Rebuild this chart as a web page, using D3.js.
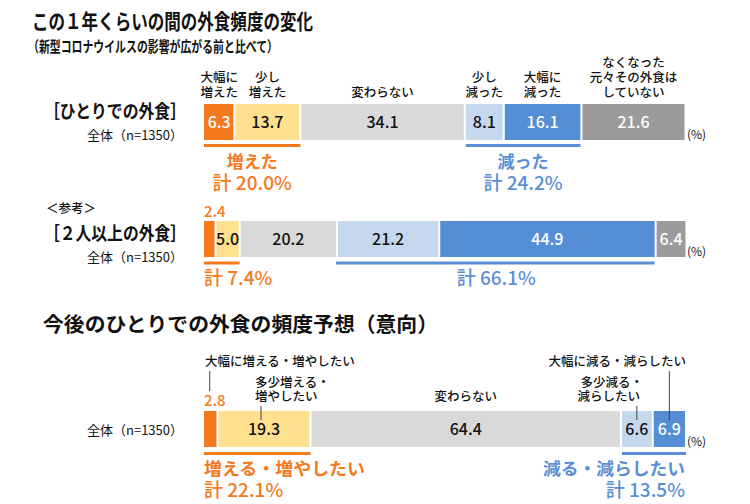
<!DOCTYPE html>
<html><head><meta charset="utf-8">
<script src="https://cdn.jsdelivr.net/npm/d3@7"></script>
<style>body{margin:0;background:#fff}svg{display:block}text{font-family:"Noto Sans CJK JP","Noto Sans",sans-serif}</style>
</head><body><svg id="c" width="750" height="504"></svg>
<script>
// ---- data ----
const pastCategories = [["大幅に","増えた"],["少し","増えた"],["変わらない"],["少し","減った"],["大幅に","減った"],["なくなった","元々その外食は","していない"]];
const soloValues = [6.3, 13.7, 34.1, 8.1, 16.1, 21.6];
const groupValues = [2.4, 5.0, 20.2, 21.2, 44.9, 6.4];
const futureCategories = ["大幅に増える・増やしたい", "多少増える・増やしたい", "変わらない", "多少減る・減らしたい", "大幅に減る・減らしたい"];
const futureValues = [2.8, 19.3, 64.4, 6.6, 6.9];
const colors = ["#F57A1E", "#FFE08E", "#D9D9D9", "#C6D8EE", "#558ED5", "#9B9B9B"];
const textColors = ["#fff", "#111", "#111", "#111", "#fff", "#fff"];
const ORANGE = "#F47A1E", BLUE = "#5B8FD5";

const svg = d3.select("#c");
const x = d3.scaleLinear().domain([0, 100]).range([204, 686]);
const fmt = v => v.toFixed(1);

function stack(vals){ let c=0; return vals.map((v,i)=>{const s=c; c+=v; return {v, s, e:c, i};}); }

function drawBar(vals, y0, h, opts){
  const st = stack(vals);
  const g = svg.append("g");
  g.selectAll("rect").data(st).join("rect")
    .attr("x", d => x(d.s) + (d.i===0?0:1))
    .attr("y", y0)
    .attr("width", d => x(d.e) - x(d.s) - (d.i===0?1:2))
    .attr("height", h)
    .attr("fill", d => colors[d.i]);
  g.selectAll("text.v").data(st.filter(d => !(opts.outside||[]).includes(d.i))).join("text")
    .attr("class","v")
    .attr("x", d => (x(d.s)+x(d.e))/2)
    .attr("y", y0 + h/2 + 6)
    .attr("text-anchor","middle")
    .attr("font-size", 16)
    .attr("font-weight", 500)
    .attr("fill", d => textColors[d.i])
    .text(d => fmt(d.v));
  svg.append("text").attr("x", 687).attr("y", y0 + h - 1).attr("font-size", 12).attr("fill","#111").text("(%)");
  return st;
}
function underline(x1, x2, y, color){
  svg.append("rect").attr("x", x1).attr("y", y-1.5).attr("width", x2-x1).attr("height", 3).attr("fill", color);
}
function txt(s, xx, yy, size, opt={}){
  const t = svg.append("text").attr("x", xx).attr("y", yy).attr("font-size", size)
    .attr("fill", opt.fill || "#111").attr("font-weight", opt.weight || "normal")
    .attr("text-anchor", opt.anchor || "start").text(s);
  if (opt.len) t.attr("textLength", opt.len).attr("lengthAdjust", "spacingAndGlyphs");
  return t;
}
// multi-line label as one text element with tspans (lastBaseline = baseline of last line)
function mtxt(lines, xx, lastBaseline, size, lh, opt={}){
  const t = svg.append("text").attr("font-size", size)
    .attr("fill", opt.fill || "#111").attr("font-weight", opt.weight || "normal")
    .attr("text-anchor", opt.anchor || "start");
  lines.forEach((ln, k) => {
    t.append("tspan").attr("x", Array.isArray(xx) ? xx[k] : xx)
      .attr("y", lastBaseline - (lines.length-1-k)*lh).text(ln);
  });
  return t;
}

// ---- titles ----
txt("この１年くらいの間の外食頻度の変化", 32, 29, 21, {weight:"bold", len:281});
txt("（新型コロナウイルスの影響が広がる前と比べて）", 28, 52, 15, {weight:"bold", len:250});

// ---- row 1: solo ----
const s1 = drawBar(soloValues, 104, 36, {});
s1.forEach(d => {
  const cx = (x(d.s)+x(d.e))/2;
  mtxt(pastCategories[d.i], cx, 97, 12.5, 15, {anchor:"middle", weight:"500"});
});
txt("［ひとりでの外食］", 186, 118, 18.5, {weight:"bold", anchor:"end", len:142});
txt("全体（n=1350）", 183, 140, 13, {anchor:"end"});
{
  const inc = d3.sum(soloValues.slice(0,2)), dec = d3.sum(soloValues.slice(3,5));
  underline(x(0), x(s1[1].e), 145.5, ORANGE);
  underline(x(s1[3].s)+1, x(s1[4].e)-1, 145.5, BLUE);
  const cI = (x(0)+x(s1[1].e))/2, cD = (x(s1[3].s)+x(s1[4].e))/2;
  txt("増えた", cI, 168, 17, {anchor:"middle", fill:ORANGE, weight:"bold"});
  txt("計 " + fmt(inc) + "%", cI, 190, 19, {anchor:"middle", fill:ORANGE, weight:"500"});
  txt("減った", cD, 168, 17, {anchor:"middle", fill:BLUE, weight:"bold"});
  txt("計 " + fmt(dec) + "%", cD, 190, 19, {anchor:"middle", fill:BLUE, weight:"500"});
}

// ---- row 2: group ----
const s2 = drawBar(groupValues, 221, 36, {outside:[0]});
txt(fmt(groupValues[0]), x(0), 217, 15, {fill:ORANGE, weight:"500"});
txt("＜参考＞", 46, 213, 12.5, {weight:"500"});
txt("［２人以上の外食］", 186, 240, 18.5, {weight:"bold", anchor:"end", len:142});
txt("全体（n=1350）", 183, 262, 13, {anchor:"end"});
{
  const inc = d3.sum(groupValues.slice(0,2)), dec = d3.sum(groupValues.slice(3,5));
  underline(x(0), x(s2[1].e), 263, ORANGE);
  underline(x(s2[3].s)-1, x(s2[4].e)-1, 263, BLUE);
  txt("計 " + fmt(inc) + "%", x(0), 285, 19, {fill:ORANGE, weight:"500"});
  txt("計 " + fmt(dec) + "%", (x(s2[3].s)+x(s2[4].e))/2, 285, 19, {anchor:"middle", fill:BLUE, weight:"500"});
}

// ---- section 3: future ----
txt("今後のひとりでの外食の頻度予想（意向）", 43, 332, 20.5, {weight:"bold", len:395});
const s3 = drawBar(futureValues, 411, 36, {outside:[0]});
txt(fmt(futureValues[0]), x(0), 406, 15, {fill:ORANGE, weight:"500"});
txt("全体（n=1350）", 183, 435, 13, {anchor:"end"});
function leader(xx, y1, y2){ svg.append("line").attr("x1",xx).attr("x2",xx).attr("y1",y1).attr("y2",y2).attr("stroke","#444").attr("stroke-width",1); }
{
  const c = s3.map(d => (x(d.s)+x(d.e))/2);
  txt(futureCategories[0], x(0)+1, 366, 12.5, {weight:"500"});
  leader(c[0]-1, 371, 391);
  mtxt(["多少増える・", "増やしたい"], c[1]-9, 401, 12.5, 14, {weight:"500"});
  leader(c[1]-3, 406, 420);
  txt(futureCategories[2], c[2], 401, 12.5, {anchor:"middle", weight:"500"});
  mtxt(["多少減る・", "減らしたい"], [643, 640], 401, 12.5, 14, {anchor:"end", weight:"500"});
  leader(c[3], 406, 420);
  txt(futureCategories[4], 686, 366, 12.5, {anchor:"end", weight:"500"});
  leader(c[4], 371, 420);

  const inc = d3.sum(futureValues.slice(0,2)), dec = d3.sum(futureValues.slice(3,5));
  underline(x(0), x(s3[1].e), 453.5, ORANGE);
  underline(x(s3[3].s)+1, x(s3[4].e), 453.5, BLUE);
  txt("増える・増やしたい", x(0), 475, 17.5, {fill:ORANGE, weight:"bold", len:161});
  txt("計 " + fmt(inc) + "%", x(0), 497, 19, {fill:ORANGE, weight:"500"});
  txt("減る・減らしたい", 685, 475, 17.5, {anchor:"end", fill:BLUE, weight:"bold", len:142});
  txt("計 " + fmt(dec) + "%", 685, 497, 19, {anchor:"end", fill:BLUE, weight:"500"});
}
</script></body></html>
